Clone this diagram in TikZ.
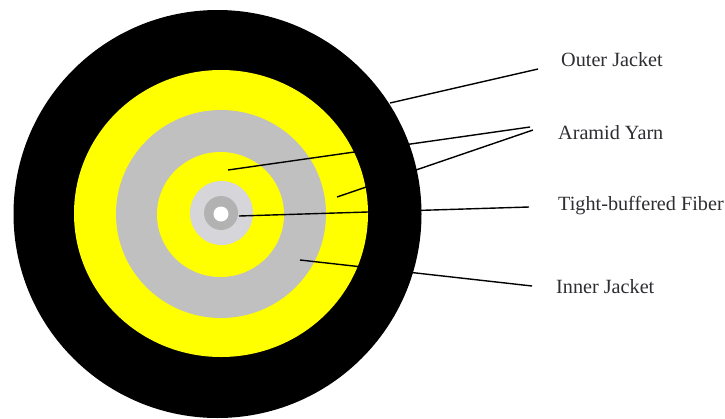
\documentclass[tikz,border=0pt]{standalone}
\usepackage{fontspec}
\setmainfont{Liberation Serif}
\definecolor{pureyellow}{RGB}{255,255,0}
\definecolor{midgray}{RGB}{192,192,192}
\definecolor{lightgray2}{RGB}{214,214,218}
\definecolor{darkgray2}{RGB}{178,178,178}
\definecolor{textgray}{RGB}{45,45,50}
\tikzset{
  ring/.style={draw=none},
  lbl/.style={inner sep=0pt,anchor=base west,font=\fontsize{20.2}{23}\selectfont,text=textgray},
  leader/.style={draw=black,line width=1.4pt}
}
\begin{document}
\begin{tikzpicture}[x=1pt,y=-1pt]
\useasboundingbox (0,0) rectangle (725,418);
\fill[white] (0,0) rectangle (725,418);
\fill[ring,black] (217.5,214) ellipse [x radius=204,y radius=204];
\fill[ring,pureyellow] (221,213.5) ellipse [x radius=147,y radius=143.5];
\fill[ring,midgray] (221,214) ellipse [x radius=105,y radius=104];
\fill[ring,pureyellow] (220.5,214.5) ellipse [x radius=63.5,y radius=62.5];
\fill[ring,lightgray2] (221.5,213) ellipse [x radius=31.5,y radius=32];
\fill[ring,darkgray2] (221,213) ellipse [x radius=17,y radius=17];
\fill[ring,white] (221,214) circle [radius=7.5];
\node[lbl] (outer) at (561,66) {Outer Jacket};
\node[lbl] (aramid) at (558,139) {Aramid Yarn};
\node[lbl] (tight) at (558,210) {Tight-buffered Fiber};
\node[lbl] (inner) at (556,293.5) {Inner Jacket};
\coordinate (o1) at (390,103);
\coordinate (o2) at (538,69);
\coordinate (a1) at (228,170);
\coordinate (a2) at (530,127);
\coordinate (b1) at (337,197);
\coordinate (b2) at (533,130);
\coordinate (t1) at (239,216);
\coordinate (t2) at (529,207);
\coordinate (i1) at (300,260);
\coordinate (i2) at (532,286);
\draw[leader] (o1) -- (o2);
\draw[leader] (a1) -- (a2);
\draw[leader] (b1) -- (b2);
\draw[leader] (t1) -- (t2);
\draw[leader] (i1) -- (i2);
\end{tikzpicture}
\end{document}
